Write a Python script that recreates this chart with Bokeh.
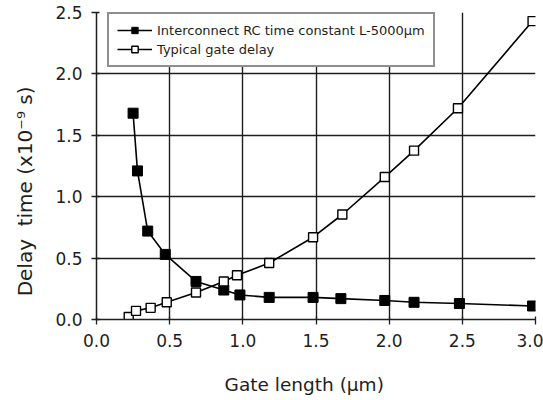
from bokeh.plotting import figure
from bokeh.models import Range1d, FixedTicker, PrintfTickFormatter, Legend, LegendItem
from bokeh.embed import file_html
from bokeh.resources import INLINE

rc_x = [0.25, 0.28, 0.35, 0.47, 0.68, 0.87, 0.98, 1.18, 1.48, 1.67, 1.97, 2.17, 2.48, 2.98]
rc_y = [1.68, 1.21, 0.72, 0.53, 0.31, 0.24, 0.20, 0.18, 0.18, 0.17, 0.155, 0.14, 0.13, 0.11]
gate_x = [0.22, 0.27, 0.37, 0.48, 0.68, 0.87, 0.96, 1.18, 1.48, 1.68, 1.97, 2.17, 2.47, 2.98]
gate_y = [0.02, 0.07, 0.095, 0.14, 0.22, 0.31, 0.36, 0.46, 0.67, 0.855, 1.16, 1.375, 1.72, 2.43]
x_ticks = [0.0, 0.5, 1.0, 1.5, 2.0, 2.5, 3.0]
y_ticks = [0.0, 0.5, 1.0, 1.5, 2.0, 2.5]
rc_label = "Interconnect RC time constant L-5000\u00b5m"
gate_label = "Typical gate delay"

FONT = "DejaVu Sans"
INK = "#1e1e1e"

p = figure(width=543, height=400, output_backend="svg", toolbar_location=None,
           x_range=Range1d(0, 3), y_range=Range1d(0, 2.5),
           min_border_left=96, min_border_right=8, min_border_top=12, min_border_bottom=81)
p.outline_line_color = None
p.background_fill_color = "white"

for ax in (p.xaxis[0], p.yaxis[0]):
    ax.major_label_text_font = FONT
    ax.major_label_text_font_size = "17px"
    ax.major_label_text_color = INK
    ax.axis_label_text_font = FONT
    ax.axis_label_text_font_style = "normal"
    ax.axis_label_text_color = INK
    ax.axis_line_color = INK
    ax.axis_line_width = 1.5
    ax.major_tick_line_color = INK
    ax.major_tick_line_width = 1.3
    ax.major_tick_in = 3
    ax.major_tick_out = 5
    ax.minor_tick_line_color = None
    ax.formatter = PrintfTickFormatter(format="%.1f")

p.xaxis.ticker = FixedTicker(ticks=x_ticks)
p.yaxis.ticker = FixedTicker(ticks=y_ticks)
p.xaxis.axis_label = "Gate length (\u00b5m)" + "\u00a0" * 4
p.xaxis.axis_label_text_font_size = "18.5px"
p.xaxis.axis_label_standoff = 24
p.yaxis.axis_label = "Delay\u00a0\u00a0time (x10\u207b\u2079 s)" + "\u00a0" * 8
p.yaxis.axis_label_text_font_size = "20px"
p.yaxis.axis_label_standoff = 15
p.xaxis.major_label_standoff = 9
p.yaxis.major_label_standoff = 9

p.xgrid.ticker = FixedTicker(ticks=x_ticks)
p.ygrid.ticker = FixedTicker(ticks=y_ticks)
for g in (p.xgrid[0], p.ygrid[0]):
    g.grid_line_color = INK
    g.grid_line_width = 1.4
    g.grid_line_alpha = 1.0

l1 = p.line(rc_x, rc_y, line_color="black", line_width=1.6)
s1 = p.scatter(rc_x, rc_y, marker="square", size=10, fill_color="black", line_color="black")
l2 = p.line(gate_x, gate_y, line_color="black", line_width=1.6)
s2 = p.scatter(gate_x, gate_y, marker="square", size=9, fill_color="white", line_color="black", line_width=1.4)

legend = Legend(items=[LegendItem(label=rc_label, renderers=[l1, s1]),
                       LegendItem(label=gate_label, renderers=[l2, s2])],
                location=(11, 252))
legend.label_text_font = FONT
legend.label_text_font_size = "13px"
legend.label_text_color = INK
legend.border_line_color = INK
legend.border_line_width = 2
legend.background_fill_alpha = 1.0
legend.glyph_width = 35
legend.glyph_height = 16
legend.label_height = 16
legend.spacing = 3
legend.padding = 8
legend.margin = 0
legend.label_standoff = 5
p.add_layout(legend)

open("out.html", "w").write(file_html(p, INLINE))
